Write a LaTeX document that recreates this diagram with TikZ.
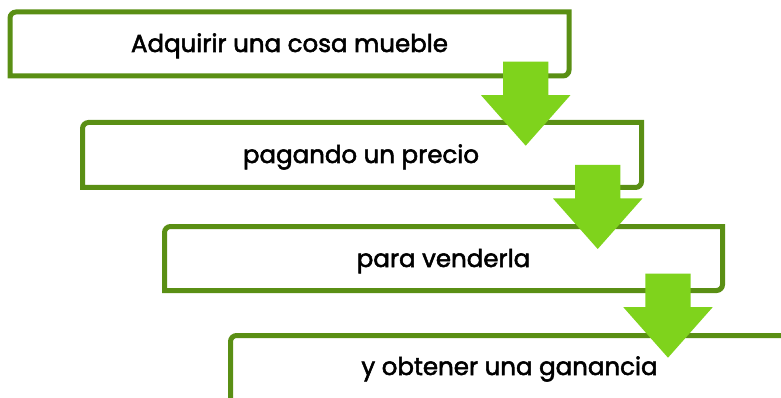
\documentclass[tikz,border=0pt]{standalone}
\usepackage{fontspec}
\setmainfont{Poppins}[FakeBold=2.2]
\usetikzlibrary{shapes.arrows}
\definecolor{boxgreen}{RGB}{90,143,20}
\definecolor{arrowgreen}{RGB}{127,211,28}
\begin{document}
\begin{tikzpicture}[x=1pt,y=-1pt,
  boxline/.style={draw=boxgreen,line width=5pt,fill=white},
  boxtext/.style={anchor=base,inner sep=0pt,font=\fontsize{24.5}{28}\selectfont,text=black},
  downarrow/.style={single arrow,fill=arrowgreen,draw=none,inner xsep=0pt,inner ysep=22.5pt,
    minimum height=84pt,single arrow head extend=22pt,
    single arrow tip angle=83,rotate=-90,anchor=tip}]
\useasboundingbox (0,0) rectangle (781,398);
% box borders: top-left and bottom-right corners rounded
\newcommand{\stepbox}[4]{%
  \draw[boxline] (#1,#4) -- (#1,#3+6) .. controls (#1,#3+2.7) and (#1+2.7,#3) .. (#1+6,#3)
    -- (#2,#3) -- (#2,#4-6) .. controls (#2,#4-2.7) and (#2-2.7,#4) .. (#2-6,#4) -- cycle;}
\stepbox{10}{569}{12}{76}
\stepbox{82.5}{641.5}{122.5}{187.5}
\stepbox{164.5}{722.5}{226.5}{290.5}
\stepbox{230.5}{790}{335.5}{400.5}
\node[boxtext] (b1) at (289.5,52) {Adquirir una cosa mueble};
\node[boxtext] (b2) at (361,163) {pagando un precio};
\node[boxtext] (b3) at (443.5,267) {para venderla};
\node[boxtext] (b4) at (509.5,375) {y obtener una ganancia};
\node[downarrow] (a1) at (525.7,146) {};
\node[downarrow] (a2) at (597.7,249.3) {};
\node[downarrow] (a3) at (668,358) {};
\end{tikzpicture}
\end{document}
